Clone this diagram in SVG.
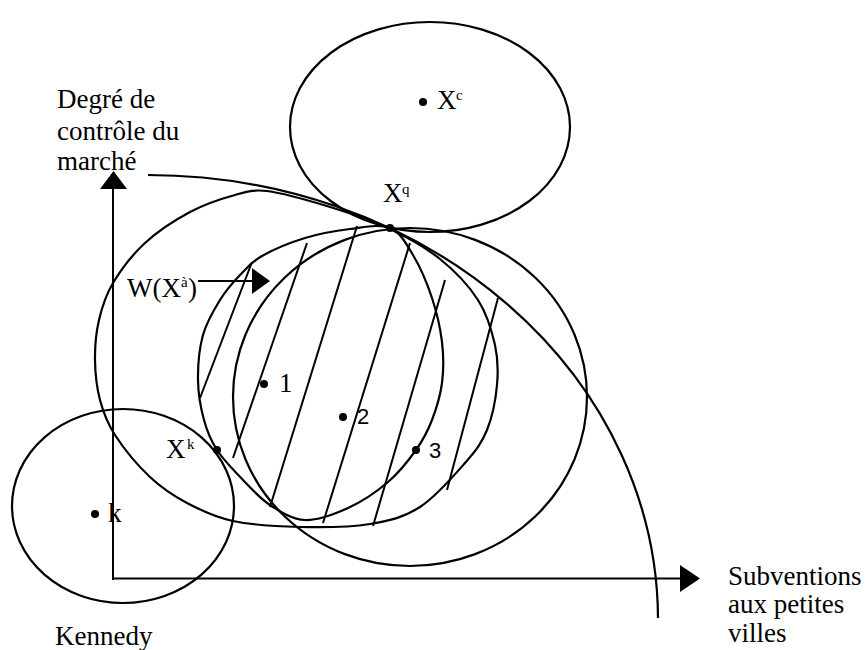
<svg xmlns="http://www.w3.org/2000/svg" width="868" height="650" viewBox="0 0 868 650">
<style>
.c{fill:none;stroke:#000;stroke-width:2.2}
.ax{fill:none;stroke:#000;stroke-width:2}
.h{fill:none;stroke:#000;stroke-width:2}
.t{font-family:"Liberation Serif","Times New Roman",serif;font-size:27px;fill:#000}
.s{font-family:"Liberation Serif","Times New Roman",serif;font-size:15px;fill:#000}
.n{font-family:"Liberation Sans",Arial,sans-serif;font-size:22px;fill:#000}
</style>
<rect width="868" height="650" fill="#fff"/>
<g id="axes">
<line class="ax" x1="113" y1="580" x2="113" y2="188"/>
<polygon points="100,189 127,189 113.5,171" fill="#000"/>
<line class="ax" x1="112" y1="578.5" x2="681" y2="578.5"/>
<polygon points="680,565 680,592 700,578.5" fill="#000"/>
<text class="t" x="57" y="108">Degré de</text>
<text class="t" x="57" y="140">contrôle du</text>
<text class="t" x="57" y="170">marché</text>
<text class="t" x="728" y="585">Subventions</text>
<text class="t" x="728" y="613">aux petites</text>
<text class="t" x="728" y="642">villes</text>
</g>
<g id="contract-curve">
<path class="c" d="M148,175 A510,445 0 0 1 658,618"/>
</g>
<g id="circle-c">
<ellipse class="c" cx="430" cy="127" rx="140" ry="105"/>
<circle cx="423" cy="102" r="4"/>
<text class="t" x="437" y="109">X</text>
<text class="s" x="456" y="100">c</text>
</g>
<g id="circle-kennedy">
<ellipse class="c" cx="123" cy="506" rx="111" ry="97"/>
<circle cx="95" cy="514" r="4"/>
<text class="t" x="108" y="522">k</text>
<text class="t" x="55" y="645">Kennedy</text>
</g>
<g id="circle-a">
<path class="c" d="M267,191 C282.8,193 309.5,200.7 330,207 C350.5,213.3 371.7,220.3 390,229 C408.3,237.7 425.3,247.2 440,259 C454.7,270.8 468.8,285.7 478,300 C487.2,314.3 491.8,330.8 495,345 C498.2,359.2 498.3,370.8 497,385 C495.7,399.2 492.3,417 487,430 C481.7,443 476.2,450.2 465,463 C453.8,475.8 435.8,496.8 420,507 C404.2,517.2 390,520.7 370,524 C350,527.3 322.8,527.5 300,527 C277.2,526.5 251.8,525 233,521 C214.2,517 200.8,510.3 187,503 C173.2,495.7 162,488.3 150,477 C138,465.7 123.3,447.8 115,435 C106.7,422.2 103.3,412.5 100,400 C96.7,387.5 95.2,373.3 95,360 C94.8,346.7 96,332.8 99,320 C102,307.2 105.3,295.8 113,283 C120.7,270.2 132.2,254.8 145,243 C157.8,231.2 175,220 190,212 C205,204 222.2,198.5 235,195 C247.8,191.5 253,189.5 267,191 Z"/>
</g>
<g id="circle-b">
<path class="c" d="M390,228 C400.5,232.3 406,243.3 413,255 C420,266.7 427.2,283.5 432,298 C436.8,312.5 440.3,327.8 442,342 C443.7,356.2 443.7,370 442,383 C440.3,396 436.3,408.8 432,420 C427.7,431.2 423.3,439.7 416,450 C408.7,460.3 399.3,472.3 388,482 C376.7,491.7 361.8,501.7 348,508 C334.2,514.3 318,520.5 305,520 C292,519.5 280.3,511.7 270,505 C259.7,498.3 251.8,489.2 243,480 C234.2,470.8 223.5,460 217,450 C210.5,440 207.2,431.7 204,420 C200.8,408.3 198.2,394.2 198,380 C197.8,365.8 199.3,348.3 203,335 C206.7,321.7 213.8,310 220,300 C226.2,290 233,282.3 240,275 C247,267.7 251.2,262.2 262,256 C272.8,249.8 290.3,242.5 305,238 C319.7,233.5 335.8,230.7 350,229 C364.2,227.3 379.5,223.7 390,228 Z"/>
</g>
<g id="circle-d">
<ellipse class="c" cx="410" cy="397" rx="177" ry="169"/>
</g>
<g id="hatch">
<line class="h" x1="252" y1="262" x2="200" y2="398"/>
<line class="h" x1="307" y1="243" x2="233" y2="458"/>
<line class="h" x1="357" y1="226" x2="270" y2="507"/>
<line class="h" x1="410" y1="243" x2="323" y2="523"/>
<line class="h" x1="445" y1="280" x2="373" y2="526"/>
<line class="h" x1="498" y1="298" x2="447" y2="490"/>
</g>
<g id="points">
<circle cx="390" cy="228" r="4"/>
<text class="t" x="383" y="202">X</text>
<text class="s" x="402" y="194">q</text>
<circle cx="217" cy="450" r="4"/>
<text class="t" x="166" y="458">X</text>
<text class="s" x="187" y="449">k</text>
<circle cx="264" cy="384" r="4"/>
<text class="t" x="279" y="392">1</text>
<circle cx="343" cy="417" r="4"/>
<text class="n" x="357" y="424">2</text>
<circle cx="416" cy="450" r="4"/>
<text class="n" x="429" y="458">3</text>
</g>
<g id="winset-label">
<text class="t" x="127" y="297">W(X</text>
<text class="s" x="181" y="287">à</text>
<text class="t" x="188" y="297">)</text>
<line class="ax" x1="198" y1="281" x2="253" y2="281"/>
<polygon points="252,268 252,294 270,281" fill="#000"/>
</g>
</svg>
